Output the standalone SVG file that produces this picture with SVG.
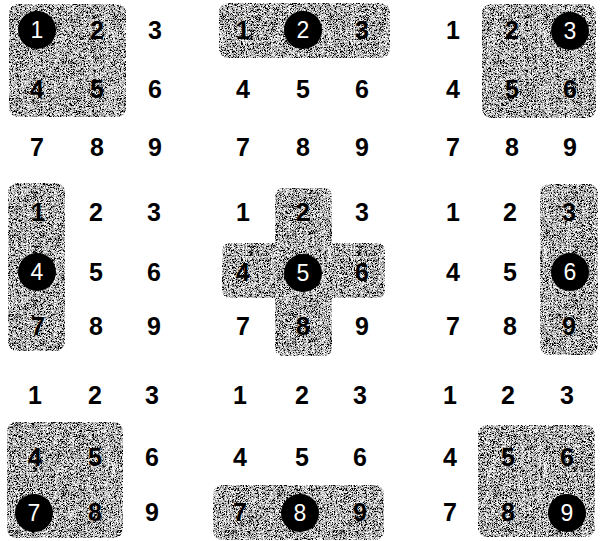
<svg xmlns="http://www.w3.org/2000/svg" width="600" height="541" viewBox="0 0 600 541">
<defs>
<filter id="noise" x="0" y="0" width="100%" height="100%" filterUnits="objectBoundingBox">
<feTurbulence type="fractalNoise" baseFrequency="2.37" numOctaves="2" seed="7" result="t"/>
<feColorMatrix in="t" type="matrix" values="3.4 0 0 0 -1.25  3.4 0 0 0 -1.25  3.4 0 0 0 -1.25  0 0 0 0 1" result="g"/>
<feComposite in="g" in2="SourceGraphic" operator="in"/>
</filter>
</defs>
<style>
.d{font-family:"Liberation Sans","DejaVu Sans",sans-serif;font-weight:bold;font-size:25px;text-anchor:middle;fill:#000}
.c{fill:#000}
.w{font-family:"Liberation Sans","DejaVu Sans",sans-serif;font-size:23px;text-anchor:middle;fill:#fff}
.s{fill:#000}
</style>

<g id="panel-1">
<g filter="url(#noise)"><rect class="s" x="9" y="4" width="117" height="113" rx="9"/></g>
<circle class="c" cx="37" cy="30" r="19"/><text class="w" x="37" y="38">1</text>
<text class="d" x="97" y="39">2</text><text class="d" x="155" y="39">3</text>
<text class="d" x="37" y="98">4</text><text class="d" x="97" y="98">5</text><text class="d" x="155" y="98">6</text>
<text class="d" x="37" y="156">7</text><text class="d" x="97" y="156">8</text><text class="d" x="155" y="156">9</text>
</g>

<g id="panel-2">
<g filter="url(#noise)"><rect class="s" x="219" y="3" width="171" height="55" rx="9"/></g>
<text class="d" x="243" y="39">1</text>
<circle class="c" cx="303" cy="30" r="19"/><text class="w" x="303" y="38">2</text>
<text class="d" x="362" y="39">3</text>
<text class="d" x="243" y="98">4</text><text class="d" x="303" y="98">5</text><text class="d" x="362" y="98">6</text>
<text class="d" x="243" y="156">7</text><text class="d" x="303" y="156">8</text><text class="d" x="362" y="156">9</text>
</g>

<g id="panel-3">
<g filter="url(#noise)"><rect class="s" x="482" y="4" width="114" height="114" rx="9"/></g>
<text class="d" x="453" y="39">1</text><text class="d" x="512" y="39">2</text>
<circle class="c" cx="570" cy="31" r="19"/><text class="w" x="570" y="39">3</text>
<text class="d" x="453" y="98">4</text><text class="d" x="512" y="98">5</text><text class="d" x="570" y="98">6</text>
<text class="d" x="453" y="156">7</text><text class="d" x="512" y="156">8</text><text class="d" x="570" y="156">9</text>
</g>

<g id="panel-4">
<g filter="url(#noise)"><rect class="s" x="8" y="183" width="57" height="168" rx="9"/></g>
<text class="d" x="38" y="221">1</text><text class="d" x="96" y="221">2</text><text class="d" x="154" y="221">3</text>
<circle class="c" cx="37" cy="272" r="19"/><text class="w" x="37" y="280">4</text>
<text class="d" x="96" y="281">5</text><text class="d" x="154" y="281">6</text>
<text class="d" x="38" y="335">7</text><text class="d" x="96" y="335">8</text><text class="d" x="154" y="335">9</text>
</g>

<g id="panel-5">
<g filter="url(#noise)"><path class="s" d="M284,188 H323 Q332,188 332,197 V243 H376 Q385,243 385,252 V289 Q385,298 376,298 H332 V347 Q332,356 323,356 H284 Q275,356 275,347 V298 H231 Q222,298 222,289 V252 Q222,243 231,243 H275 V197 Q275,188 284,188 Z"/></g>
<text class="d" x="243" y="221">1</text><text class="d" x="303" y="221">2</text><text class="d" x="362" y="221">3</text>
<text class="d" x="243" y="281">4</text>
<circle class="c" cx="303" cy="273" r="19"/><text class="w" x="303" y="281">5</text>
<text class="d" x="362" y="281">6</text>
<text class="d" x="243" y="335">7</text><text class="d" x="303" y="335">8</text><text class="d" x="362" y="335">9</text>
</g>

<g id="panel-6">
<g filter="url(#noise)"><rect class="s" x="540" y="184" width="58" height="171" rx="9"/></g>
<text class="d" x="453" y="221">1</text><text class="d" x="510" y="221">2</text><text class="d" x="569" y="221">3</text>
<text class="d" x="453" y="281">4</text><text class="d" x="510" y="281">5</text>
<circle class="c" cx="570" cy="272" r="19"/><text class="w" x="570" y="280">6</text>
<text class="d" x="453" y="335">7</text><text class="d" x="510" y="335">8</text><text class="d" x="569" y="335">9</text>
</g>

<g id="panel-7">
<g filter="url(#noise)"><rect class="s" x="7" y="422" width="116" height="116" rx="9"/></g>
<text class="d" x="35" y="404">1</text><text class="d" x="95" y="404">2</text><text class="d" x="152" y="404">3</text>
<text class="d" x="35" y="466">4</text><text class="d" x="95" y="466">5</text><text class="d" x="152" y="466">6</text>
<circle class="c" cx="34" cy="513" r="19"/><text class="w" x="34" y="521">7</text>
<text class="d" x="95" y="521">8</text><text class="d" x="152" y="521">9</text>
</g>

<g id="panel-8">
<g filter="url(#noise)"><rect class="s" x="213" y="485" width="171" height="55" rx="9"/></g>
<text class="d" x="240" y="404">1</text><text class="d" x="302" y="404">2</text><text class="d" x="360" y="404">3</text>
<text class="d" x="240" y="466">4</text><text class="d" x="302" y="466">5</text><text class="d" x="360" y="466">6</text>
<text class="d" x="240" y="521">7</text>
<circle class="c" cx="300" cy="513" r="19"/><text class="w" x="300" y="521">8</text>
<text class="d" x="360" y="521">9</text>
</g>

<g id="panel-9">
<g filter="url(#noise)"><rect class="s" x="478" y="425" width="117" height="112" rx="9"/></g>
<text class="d" x="450" y="404">1</text><text class="d" x="508" y="404">2</text><text class="d" x="567" y="404">3</text>
<text class="d" x="450" y="466">4</text><text class="d" x="508" y="466">5</text><text class="d" x="567" y="466">6</text>
<text class="d" x="450" y="521">7</text><text class="d" x="508" y="521">8</text>
<circle class="c" cx="567" cy="513" r="19"/><text class="w" x="567" y="521">9</text>
</g>

<g id="connectors"></g>
</svg>
